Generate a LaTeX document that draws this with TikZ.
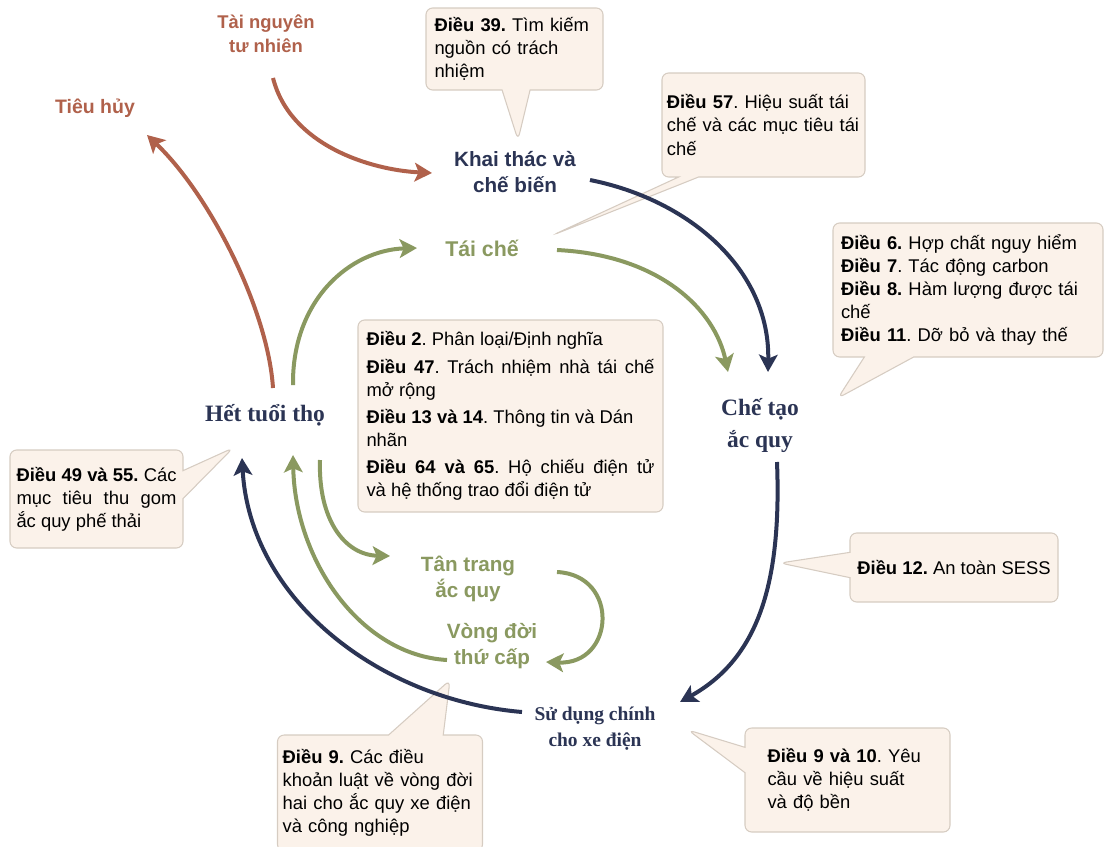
\documentclass[tikz,border=0pt]{standalone}
\usepackage{fontspec}
\setmainfont{Liberation Sans}
\newfontfamily\lawserif{Liberation Serif}
\frenchspacing
\definecolor{BNavy}{HTML}{2B3454}
\definecolor{BRust}{HTML}{B0614B}
\definecolor{BOlive}{HTML}{8A9960}
\definecolor{BCream}{HTML}{FBF2EA}
\definecolor{BEdge}{HTML}{D6CCC2}
\usetikzlibrary{arrows.meta,calc,shapes.callouts}

\begin{document}
\begin{tikzpicture}[x=0.75pt,y=-0.75pt,
    stage/.style={align=center,inner sep=1pt,fill=white,
                  font=\bfseries\fontsize{15.5}{19.5}\selectfont},
    stageserif/.style={align=center,inner sep=1pt,fill=white,text=BNavy,
                  font=\lawserif\bfseries\fontsize{17.6}{24}\selectfont},
    lawbox/.style={rectangle callout,rounded corners=5pt,fill=BCream,draw=BEdge,
                  line width=0.8pt,inner sep=0pt,align=left,
                  font=\fontsize{13.8}{17.3}\selectfont},
    flow/.style={line width=3pt,-{Stealth[length=13pt,width=14pt,inset=3pt]}}]
  \clip (0,0) rectangle (1106,846);

  % stages of the cycle
  \node[stage,text=BRust,font=\bfseries\fontsize{13.8}{18}\selectfont] (res) at (266,34) {Tài nguyên\\tư nhiên};
  \node[stage,text=BRust,font=\bfseries\fontsize{14.6}{18}\selectfont] (dis) at (95,108) {Tiêu hủy};
  \node[stage,text=BNavy] (mine) at (515,172) {Khai thác và\\chế biến};
  \node[stage,text=BOlive,font=\bfseries\fontsize{16}{19.5}\selectfont] (rec) at (482,248) {Tái chế};
  \node[stageserif] (make) at (760,425) {Chế tạo\\ắc quy};
  \node[stageserif] (eol) at (265,415) {Hết tuổi thọ};
  \node[stage,text=BOlive] (refurb) at (468,579) {Tân trang\\ắc quy};
  \node[stage,text=BOlive] (second) at (492,646) {Vòng đời\\thứ cấp};
  \node[stageserif,font=\lawserif\bfseries\fontsize{14.6}{19.5}\selectfont] (use) at (595,729) {Sử dụng chính\\cho xe điện};

  % legal articles
  \node[lawbox,minimum width=132.75pt,minimum height=61.5pt,text width=120pt,
        callout pointer width=21pt,callout absolute pointer={($(mine)+(3,-32)$)}]
        (art39) at (514.5,49) {\textbf{Điều 39.} Tìm kiếm\\nguồn có trách\\nhiệm};
  \node[lawbox,minimum width=152.25pt,minimum height=78pt,text width=145pt,
        callout pointer width=15pt,callout absolute pointer={($(rec)+(71,-13)$)}]
        (art57) at (763.5,125) {\textbf{Điều 57}. Hiệu suất tái\\chế và các mục tiêu tái\\chế};
  \node[lawbox,minimum width=202.5pt,minimum height=100.5pt,text width=190.5pt,
        callout pointer width=37pt,callout absolute pointer={($(make)+(78,-27)$)}]
        (art6) at (968,290) {\textbf{Điều 6.} Hợp chất nguy hiểm\\\textbf{Điều 7}. Tác động carbon\\
        \textbf{Điều 8.} Hàm lượng được tái\\chế\\\textbf{Điều 11}. Dỡ bỏ và thay thế};
  \node[rectangle,rounded corners=5pt,fill=BCream,draw=BEdge,line width=0.8pt,
        inner sep=0pt,minimum width=228.75pt,minimum height=144pt,text width=216pt,
        align=justify,font=\fontsize{13.8}{17.3}\selectfont]
        (art2) at (510.5,416) {\textbf{Điều 2}. Phân loại/Định nghĩa\par\vspace{3pt}
        \textbf{Điều 47}. Trách nhiệm nhà tái chế mở rộng\par\vspace{3pt}
        \textbf{Điều 13 và 14}. Thông tin và Dán\newline nhãn\par\vspace{3pt}
        \textbf{Điều 64 và 65}. Hộ chiếu điện tử\linebreak và hệ thống trao đổi điện tử};
  \node[lawbox,align=justify,minimum width=129.75pt,minimum height=73.5pt,text width=120pt,
        callout pointer width=21pt,callout absolute pointer={($(eol)+(-32,33)$)}]
        (art49) at (96.5,499) {\textbf{Điều 49 và 55.} Các\linebreak mục tiêu thu gom\linebreak ắc quy phế thải};
  \node[lawbox,minimum width=153.75pt,minimum height=87pt,text width=146pt,
        callout pointer width=41pt,callout absolute pointer={($(second)+(-42,34)$)}]
        (art9) at (380,793) {\textbf{Điều 9.} Các điều\\khoản luật về vòng đời\\hai cho ắc quy xe điện\\và công nghiệp};
  \node[lawbox,minimum width=153.75pt,minimum height=78pt,text width=120pt,
        callout pointer width=19pt,callout absolute pointer={($(use)+(93,1)$)}]
        (art910) at (847.5,780) {\textbf{Điều 9 và 10}. Yêu\\cầu về hiệu suất\\và độ bền};
  \node[lawbox,minimum width=156pt,minimum height=51.75pt,
        callout pointer width=19pt,callout absolute pointer={($(make)+(20,138)$)}]
        (art12) at (954,567.5) {\textbf{Điều 12.} An toàn SESS};

  % flows
  \draw[flow,BRust] ($(res)+(7,44)$) .. controls (290,145) and (370,170) .. ($(mine)+(-83,1)$);
  \draw[flow,BRust] ($(eol)+(8,-27)$) .. controls (268,310) and (210,195) .. ($(dis)+(52,27)$);
  \draw[flow,BNavy] ($(mine)+(75,8)$) .. controls (690,200) and (770,270) .. ($(make)+(8,-53)$);
  \draw[flow,BNavy] ($(make)+(17,37)$) .. controls (782,590) and (755,660) .. ($(use)+(85,-27)$);
  \draw[flow,BNavy] ($(use)+(-73,-17)$) .. controls (380,700) and (250,600) .. ($(eol)+(-23,43)$);
  \draw[flow,BOlive] ($(eol)+(28,-30)$) .. controls (292,300) and (350,250) .. ($(rec)+(-65,0)$);
  \draw[flow,BOlive] ($(rec)+(75,2)$) .. controls (660,255) and (715,310) .. ($(make)+(-32,-53)$);
  \draw[flow,BOlive] ($(eol)+(55,45)$) .. controls (318,520) and (345,555) .. ($(refurb)+(-78,-23)$);
  \draw[flow,BOlive] ($(second)+(-45,14)$) .. controls (360,655) and (295,560) .. ($(eol)+(28,40)$);
  \draw[flow,BOlive] ($(refurb)+(89,-7)$) .. controls (620,575) and (615,665) .. ($(second)+(54,16)$);
\end{tikzpicture}
\end{document}
